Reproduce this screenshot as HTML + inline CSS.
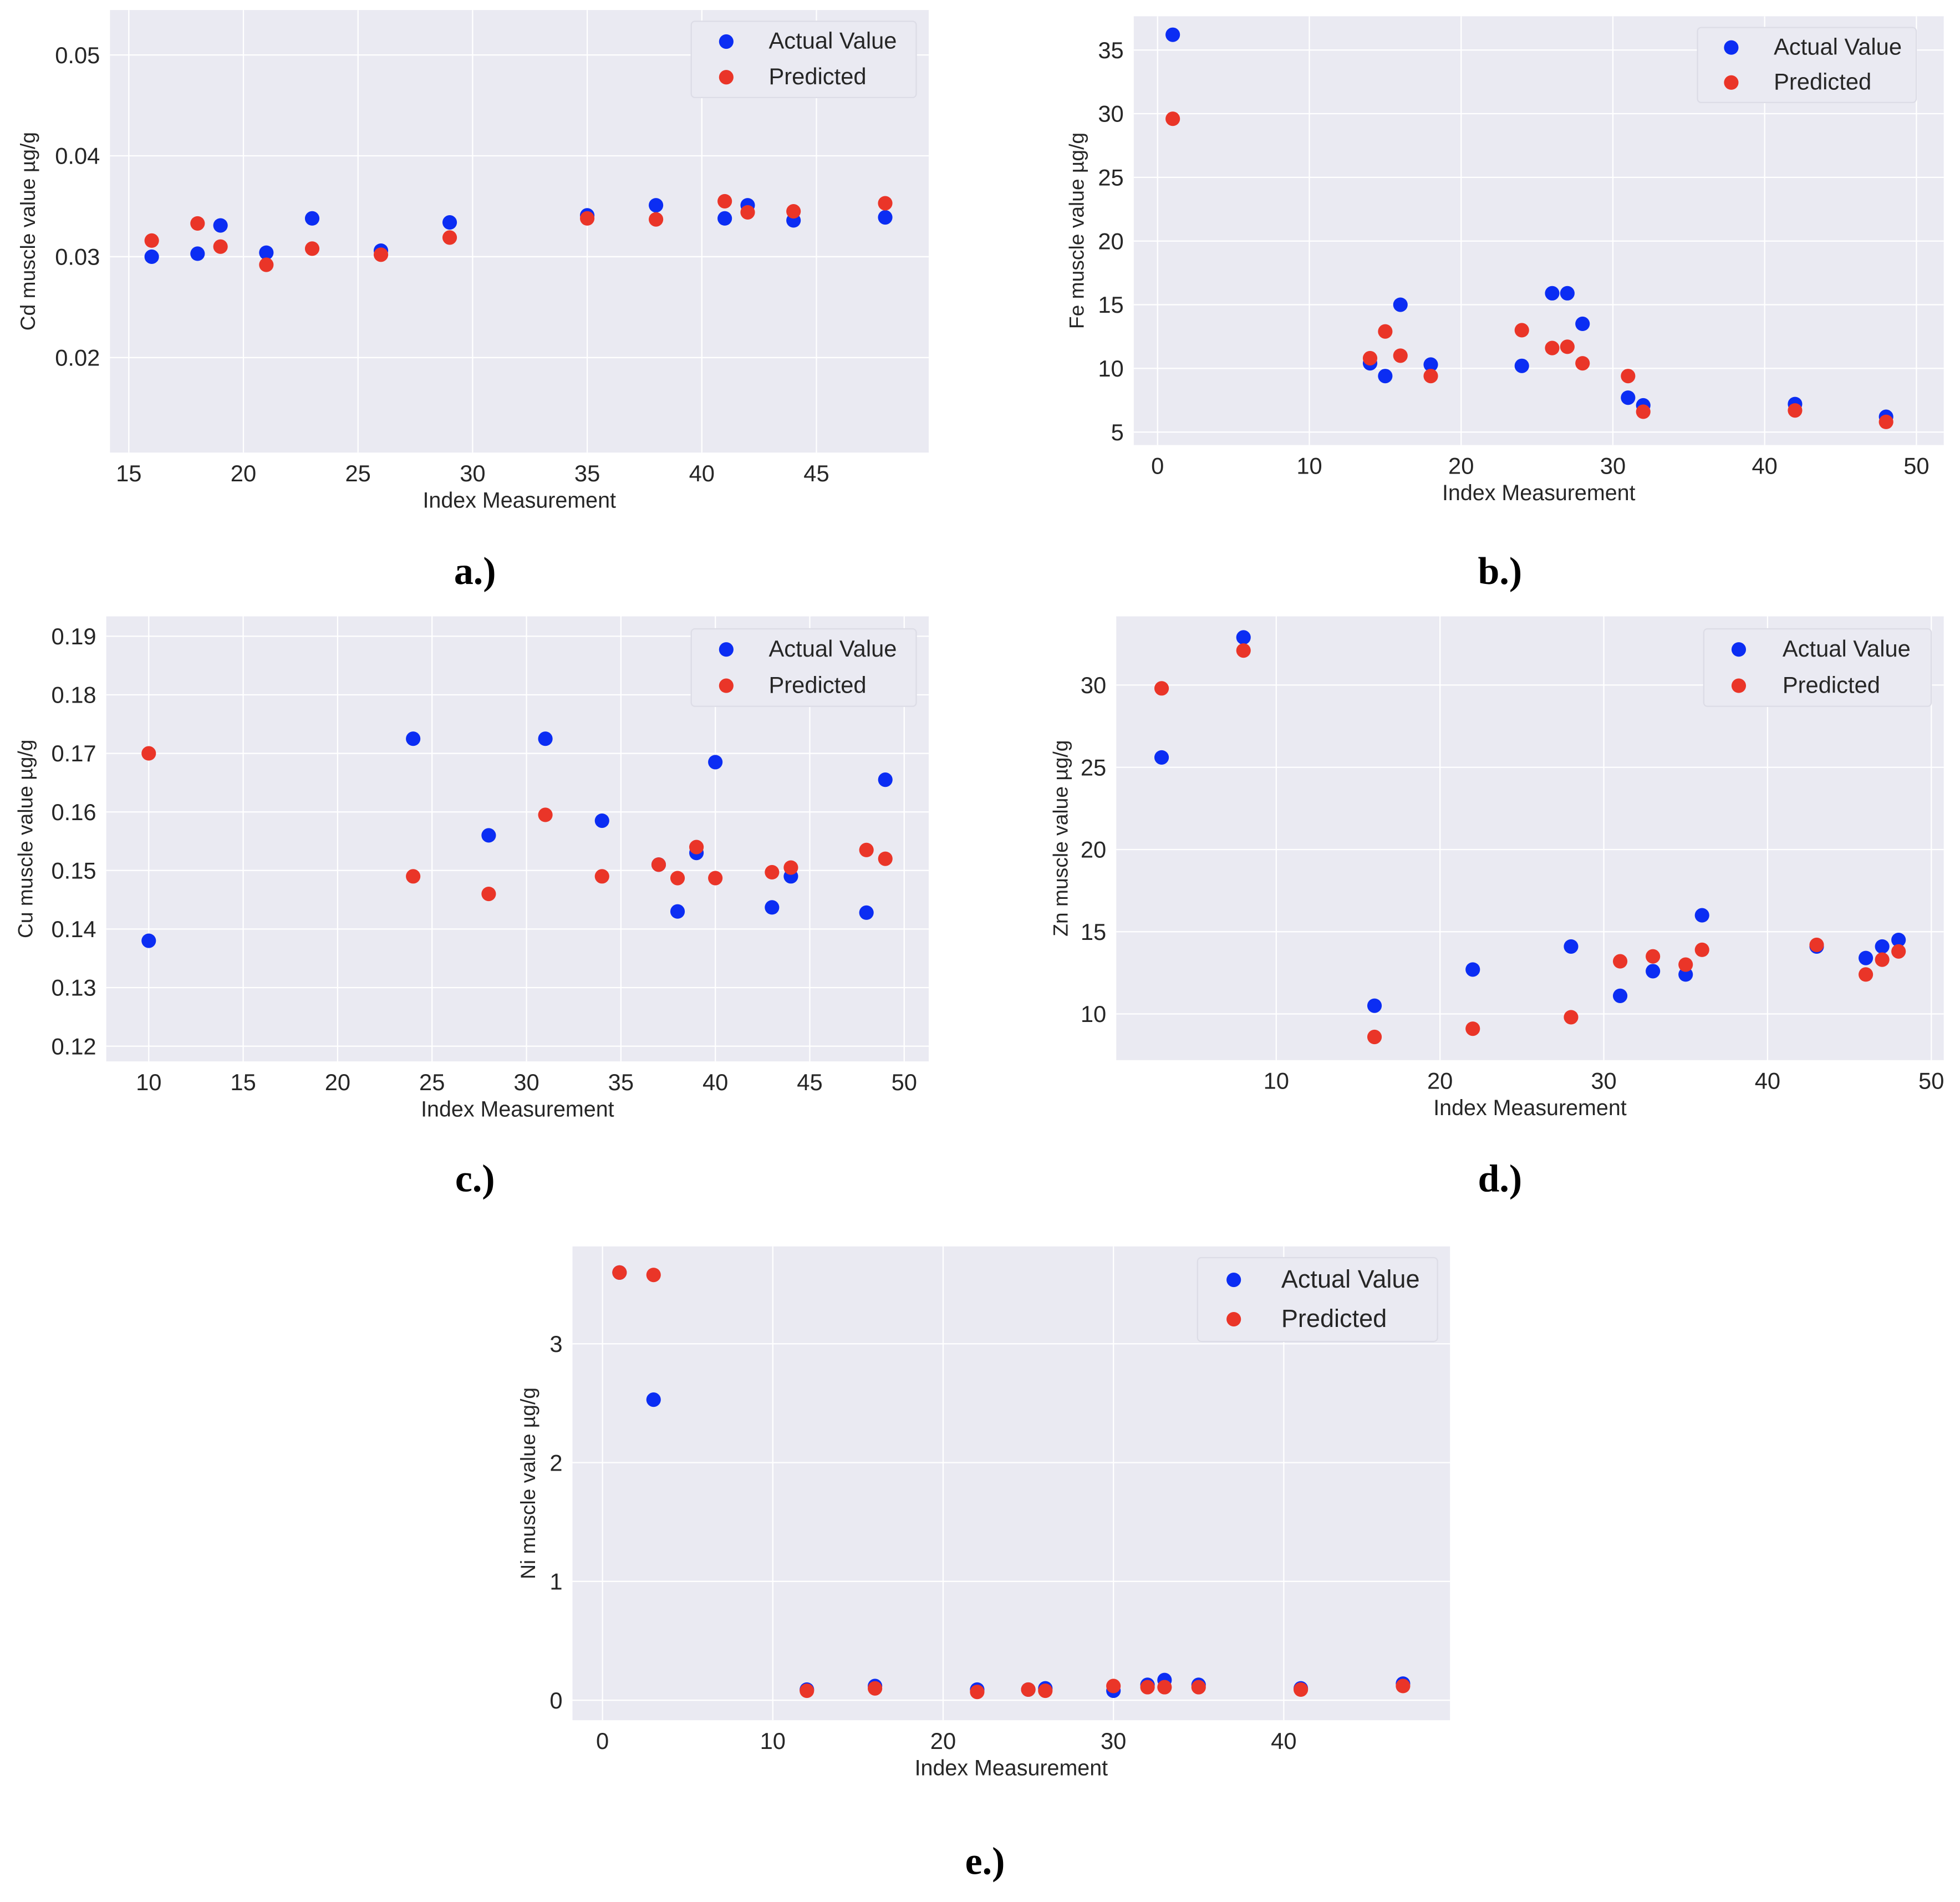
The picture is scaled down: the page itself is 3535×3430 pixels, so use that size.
<!DOCTYPE html>
<html><head><meta charset="utf-8"><style>
html,body{margin:0;padding:0;background:#fff;}
svg{display:block;}
text{font-family:"Liberation Sans",sans-serif;}
</style></head>
<body>
<svg id="fig" width="3535" height="3430" viewBox="0 0 1568 1521.4" xmlns="http://www.w3.org/2000/svg"></svg>
<script>
// Panel a (Cd)
const cdIndex = [16,18,19,21,23,26,29,35,38,41,42,44,48];
const cdActual = [0.0300,0.0303,0.0331,0.0304,0.0338,0.0306,0.0334,0.0341,0.0351,0.0338,0.0351,0.0336,0.0339];
const cdPred = [0.0316,0.0333,0.0310,0.0292,0.0308,0.0302,0.0319,0.0338,0.0337,0.0355,0.0344,0.0345,0.0353];
const cdXTicks = [15,20,25,30,35,40,45];
const cdYTicks = [0.02,0.03,0.04,0.05];
// Panel b (Fe)
const feIndex = [1,14,15,16,18,24,26,27,28,31,32,42,48];
const feActual = [36.2,10.4,9.4,15.0,10.3,10.2,15.9,15.9,13.5,7.7,7.1,7.2,6.2];
const fePred = [29.6,10.8,12.9,11.0,9.4,13.0,11.6,11.7,10.4,9.4,6.6,6.7,5.8];
const feXTicks = [0,10,20,30,40,50];
const feYTicks = [5,10,15,20,25,30,35];
// Panel c (Cu)
const cuIndex = [10,24,28,31,34,37,38,39,40,43,44,48,49];
const cuActual = [0.138,0.1725,0.156,0.1725,0.1585,0.151,0.143,0.153,0.1685,0.1437,0.149,0.1428,0.1655];
const cuPred = [0.170,0.149,0.146,0.1595,0.149,0.151,0.1487,0.154,0.1487,0.1497,0.1505,0.1535,0.152];
const cuXTicks = [10,15,20,25,30,35,40,45,50];
const cuYTicks = [0.12,0.13,0.14,0.15,0.16,0.17,0.18,0.19];
// Panel d (Zn)
const znIndex = [3,8,16,22,28,31,33,35,36,43,46,47,48];
const znActual = [25.6,32.9,10.5,12.7,14.1,11.1,12.6,12.4,16.0,14.1,13.4,14.1,14.5];
const znPred = [29.8,32.1,8.6,9.1,9.8,13.2,13.5,13.0,13.9,14.2,12.4,13.3,13.8];
const znXTicks = [10,20,30,40,50];
const znYTicks = [10,15,20,25,30];
// Panel e (Ni)
const niIndex = [1,3,12,16,22,25,26,30,32,33,35,41,47];
const niActual = [3.6,2.53,0.09,0.12,0.09,0.09,0.10,0.08,0.13,0.17,0.13,0.10,0.14];
const niPred = [3.6,3.58,0.08,0.10,0.07,0.09,0.08,0.12,0.11,0.11,0.11,0.09,0.12];
const niXTicks = [0,10,20,30,40];
const niYTicks = [0,1,2,3];

const NS = "http://www.w3.org/2000/svg";
const fig = document.getElementById('fig');
function mk(tag, attrs, parent, txt){
  const e = document.createElementNS(NS, tag);
  for (const k in attrs) e.setAttribute(k, attrs[k]);
  if (txt !== undefined) e.textContent = txt;
  (parent||fig).appendChild(e);
  return e;
}
function fmt(v, dec){ return dec ? v.toFixed(dec) : String(v); }

function panel(cfg){
  const g = mk('g', {});
  
  
  const [L,T,R,B] = cfg.rect;
  const sx = v => L + (v - cfg.xd[0]) / (cfg.xd[1]-cfg.xd[0]) * (R-L);
  const sy = v => B - (v - cfg.yd[0]) / (cfg.yd[1]-cfg.yd[0]) * (B-T);
  const bg = mk('rect', {x:L, y:T, width:R-L, height:B-T, fill:'#eaeaf2'}, g);
  
  
  cfg.xt.forEach(t => {
    const x = sx(t);
    if (x >= L && x <= R) mk('line', {x1:x, x2:x, y1:T, y2:B, stroke:'#fff', 'stroke-width':1}, g);
    const tl = mk('text', {x:x, y:B+23, 'font-size':18.5, fill:'#262626', 'text-anchor':'middle'}, g, fmt(t,0));
    
    
  });
  cfg.yt.forEach(t => {
    const y = sy(t);
    mk('line', {x1:L, x2:R, y1:y, y2:y, stroke:'#fff', 'stroke-width':1}, g);
    const tl = mk('text', {x:L-8, y:y+6.5, 'font-size':18.5, fill:'#262626', 'text-anchor':'end'}, g, fmt(t, cfg.ydec));
    
    
  });
  const xl = mk('text', {x:(L+R)/2, y:B+44, 'font-size':17.5, fill:'#262626', 'text-anchor':'middle'}, g, 'Index Measurement');
  
  
  const yl = mk('text', {x:0, y:0, 'font-size':16.5, fill:'#262626', 'text-anchor':'middle', transform:`translate(${cfg.ylx},${(T+B)/2}) rotate(-90)`}, g, cfg.ylabel);
  
  
  const r = 5.8;
  cfg.idx.forEach((xv,i) => {
    const c = mk('circle', {cx:sx(xv), cy:sy(cfg.act[i]), r:r, fill:'#0b2df3'}, g);
    
    
  });
  cfg.idx.forEach((xv,i) => {
    const c = mk('circle', {cx:sx(xv), cy:sy(cfg.pred[i]), r:r, fill:'#ea3528'}, g);
    
    
  });
  const [lx,ly,lw,lh] = cfg.leg;
  const lg = mk('g', {}, g);
  
  
  mk('rect', {x:lx, y:ly, width:lw, height:lh, rx:3, fill:'#eaeaf2', stroke:'#dcdce6', 'stroke-width':1}, lg);
  const fs = cfg.legfs;
  const dy = lh/2;
  const e1 = mk('circle', {cx:lx+cfg.legdot, cy:ly+dy*0.5+1, r:r, fill:'#0b2df3'}, lg);
  
  
  const t1 = mk('text', {x:lx+cfg.legtx, y:ly+dy*0.5+fs*0.36, 'font-size':fs, fill:'#262626'}, lg, 'Actual Value');
  
  
  const e2 = mk('circle', {cx:lx+cfg.legdot, cy:ly+dy*1.5-1, r:r, fill:'#ea3528'}, lg);
  
  
  const t2 = mk('text', {x:lx+cfg.legtx, y:ly+dy*1.5+fs*0.36-2, 'font-size':fs, fill:'#262626'}, lg, 'Predicted');
  
  
  const cap = mk('text', {x:cfg.cap[0], y:cfg.cap[1], 'font-size':31, 'font-weight':'bold', fill:'#000', 'text-anchor':'middle', style:'font-family:"Liberation Serif",serif'}, fig, cfg.capText);
  
  
}

panel({name:'cd', rect:[88,8,743,362], xd:[14.18,49.9], yd:[0.01058,0.05446], xt:cdXTicks, yt:cdYTicks, ydec:2,
  idx:cdIndex, act:cdActual, pred:cdPred, ylabel:'Cd muscle value µg/g', ylx:28,
  leg:[553,17,180,61], legfs:18.5, legdot:28, legtx:62, cap:[380,467], capText:'a.)'});
panel({name:'fe', rect:[907,13,1555,356], xd:[-1.57,51.8], yd:[3.98,37.65], xt:feXTicks, yt:feYTicks, ydec:0,
  idx:feIndex, act:feActual, pred:fePred, ylabel:'Fe muscle value µg/g', ylx:867,
  leg:[1358,22,175,60], legfs:18.5, legdot:27, legtx:61, cap:[1200,467], capText:'b.)'});
panel({name:'cu', rect:[85,493,743,849], xd:[7.75,51.3], yd:[0.1174,0.1934], xt:cuXTicks, yt:cuYTicks, ydec:2,
  idx:cuIndex, act:cuActual, pred:cuPred, ylabel:'Cu muscle value µg/g', ylx:26,
  leg:[553,503,180,62], legfs:18.5, legdot:28, legtx:62, cap:[380,953], capText:'c.)'});
panel({name:'zn', rect:[893,493,1555,848], xd:[0.23,50.76], yd:[7.19,34.18], xt:znXTicks, yt:znYTicks, ydec:0,
  idx:znIndex, act:znActual, pred:znPred, ylabel:'Zn muscle value µg/g', ylx:854,
  leg:[1363,503,182,62], legfs:18.5, legdot:28, legtx:63, cap:[1200,953], capText:'d.)'});
panel({name:'ni', rect:[458,997,1160,1376], xd:[-1.76,49.76], yd:[-0.168,3.82], xt:niXTicks, yt:niYTicks, ydec:0,
  idx:niIndex, act:niActual, pred:niPred, ylabel:'Ni muscle value µg/g', ylx:428,
  leg:[958,1006,192,67], legfs:20, legdot:29, legtx:67, cap:[788,1499], capText:'e.)'});
</script>
</body></html>
